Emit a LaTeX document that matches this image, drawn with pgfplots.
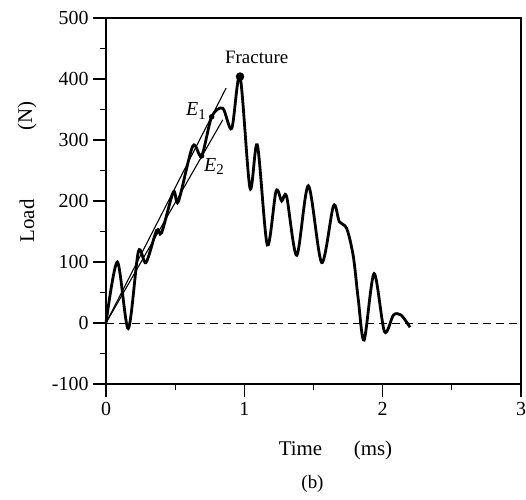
\documentclass[border=0pt]{standalone}
\usepackage{fontspec}
\setmainfont{Liberation Serif}
\usepackage{pgfplots}
\pgfplotsset{compat=1.18}
\begin{document}
\begin{tikzpicture}
\begin{axis}[
  scale only axis, width=415bp, height=366bp,
  xmin=0, xmax=3, ymin=-100, ymax=500,
  xtick={0,1,2,3}, ytick={-100,0,100,200,300,400,500},
  minor xtick={0.5,1.5,2.5}, minor ytick={-50,50,150,250,350,450},
  tick align=outside, major tick length=13bp, minor tick length=6bp,
  xtick pos=bottom, ytick pos=left,
  axis line style={line width=1.2bp},
  tick style={line width=1.2bp, black},
  ticklabel style={font=\fontsize{20}{24}\selectfont},
  yticklabel style={xshift=-1bp},
  xticklabel style={yshift=-2bp},
  /pgf/number format/assume math mode=true,
  clip=false,
]
\addplot[black, dashed, line width=1bp, dash pattern=on 8bp off 5bp] coordinates {(0,0) (3,0)};
\addplot[black, line width=1.1bp] coordinates {(0,0) (0.868,385)};
\addplot[black, line width=1.1bp] coordinates {(0,0) (0.844,333)};
\addplot[black, line width=2.8bp, smooth, tension=0.5] coordinates {
(0,0) (0.082,100) (0.161,-9) (0.234,117) (0.289,99) (0.366,152) (0.402,148)
(0.487,215) (0.523,199) (0.627,290) (0.691,274) (0.764,338) (0.844,352)
(0.909,319) (0.969,404) (1.041,221) (1.094,292) (1.166,128) (1.229,216)
(1.270,200) (1.306,207) (1.379,111) (1.463,225) (1.559,99) (1.644,192)
(1.687,166) (1.740,155) (1.788,109) (1.824,38) (1.866,-28) (1.938,81)
(2.013,-14) (2.078,13) (2.133,13) (2.198,-7)
};
\addplot[only marks, mark=*, mark size=4bp, black] coordinates {(0.969,404)};
\addplot[only marks, mark=*, mark size=2.5bp, black] coordinates {(0.764,338) (0.691,274)};
\end{axis}
\node[anchor=base, font=\fontsize{19}{23}\selectfont] at (150.7bp,320.7bp) {Fracture};
\node[anchor=base west, inner sep=0pt, font=\fontsize{20}{24}\selectfont] at (80bp,268bp) {\textit{E}\raisebox{-0.35ex}{\fontsize{15}{18}\selectfont 1}};
\node[anchor=base west, inner sep=0pt, font=\fontsize{20}{24}\selectfont] at (98bp,212.3bp) {\textit{E}\raisebox{-0.35ex}{\fontsize{15}{18}\selectfont 2}};
\node[anchor=base, font=\fontsize{21}{25}\selectfont] at (194.5bp,-71bp) {Time};
\node[anchor=base, font=\fontsize{21}{25}\selectfont] at (267bp,-71bp) {(ms)};
\node[anchor=base, font=\fontsize{19}{23}\selectfont] at (206.5bp,-104.5bp) {(b)};
\node[rotate=90, font=\fontsize{21}{25}\selectfont] at (-79bp,163bp) {Load};
\node[rotate=90, font=\fontsize{21}{25}\selectfont] at (-79bp,268bp) {(N)};
\pgfresetboundingbox
\path (-106bp,-116bp) rectangle (420bp,384bp);
\end{tikzpicture}
\end{document}
